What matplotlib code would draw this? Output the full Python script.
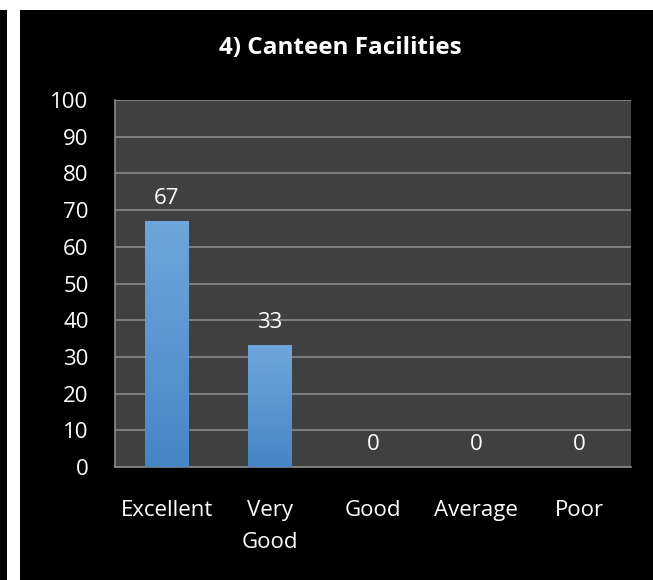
import numpy as np
import matplotlib.pyplot as plt
from matplotlib.patches import Rectangle

categories = ['Excellent', 'Very\nGood', 'Good', 'Average', 'Poor']
values = [67, 33, 0, 0, 0]
yticks = [0, 10, 20, 30, 40, 50, 60, 70, 80, 90, 100]

plt.rcParams['font.family'] = ['Open Sans', 'DejaVu Sans']

W, H = 653, 580
fig = plt.figure(figsize=(W / 100, H / 100), dpi=100)
fig.patch.set_facecolor('white')

# black panels (left strip + chart area)
fig.patches.append(Rectangle((0, 0), 7 / W, (H - 10) / H, transform=fig.transFigure,
                             facecolor='black', edgecolor='none', zorder=-5))
fig.patches.append(Rectangle((20 / W, 0), (W - 20) / W, (H - 10) / H, transform=fig.transFigure,
                             facecolor='black', edgecolor='none', zorder=-5))

ax = fig.add_axes([115 / W, (H - 467) / H, (631 - 115) / W, (467 - 100) / H])
ax.set_facecolor('#404040')

x = np.arange(len(categories))
bars = ax.bar(x, values, width=0.42, color='none', edgecolor='none', zorder=3)

# vertical gradient for each bar
grad = np.linspace(0, 1, 256).reshape(-1, 1)
cmap = plt.matplotlib.colors.LinearSegmentedColormap.from_list('bl', ['#4686c6', '#6fa6dc'])
for b in bars:
    h = b.get_height()
    if h <= 0:
        continue
    ax.imshow(grad, cmap=cmap, origin='lower', aspect='auto', zorder=3,
              extent=(b.get_x(), b.get_x() + b.get_width(), 0, h))

for xi, v in zip(x, values):
    ax.annotate(str(v), (xi, v), xytext=(0, 9), textcoords='offset points',
                ha='center', va='bottom', color='white', fontsize=16)

ax.set_xlim(-0.5, len(categories) - 0.5)
ax.set_ylim(0, 100)
ax.set_yticks(yticks)
ax.set_xticks(x)
ax.set_xticklabels(categories, color='white', fontsize=16, linespacing=1.65)
ax.tick_params(axis='y', colors='white', labelsize=16, length=0, pad=19)
ax.tick_params(axis='x', colors='white', length=0, pad=24)
ax.grid(axis='y', color='#8a8a8a', linewidth=1.2, zorder=1)
ax.set_axisbelow(True)
for side in ['top', 'right']:
    ax.spines[side].set_visible(False)
for side in ['left', 'bottom']:
    ax.spines[side].set_color('#8a8a8a')
    ax.spines[side].set_linewidth(1.2)

fig.text(340 / W, (H - 48) / H, '4) Canteen Facilities', ha='center', va='center',
         color='white', fontsize=17.5, fontweight='bold')

fig.savefig('out.png', dpi=100, facecolor=fig.get_facecolor())
